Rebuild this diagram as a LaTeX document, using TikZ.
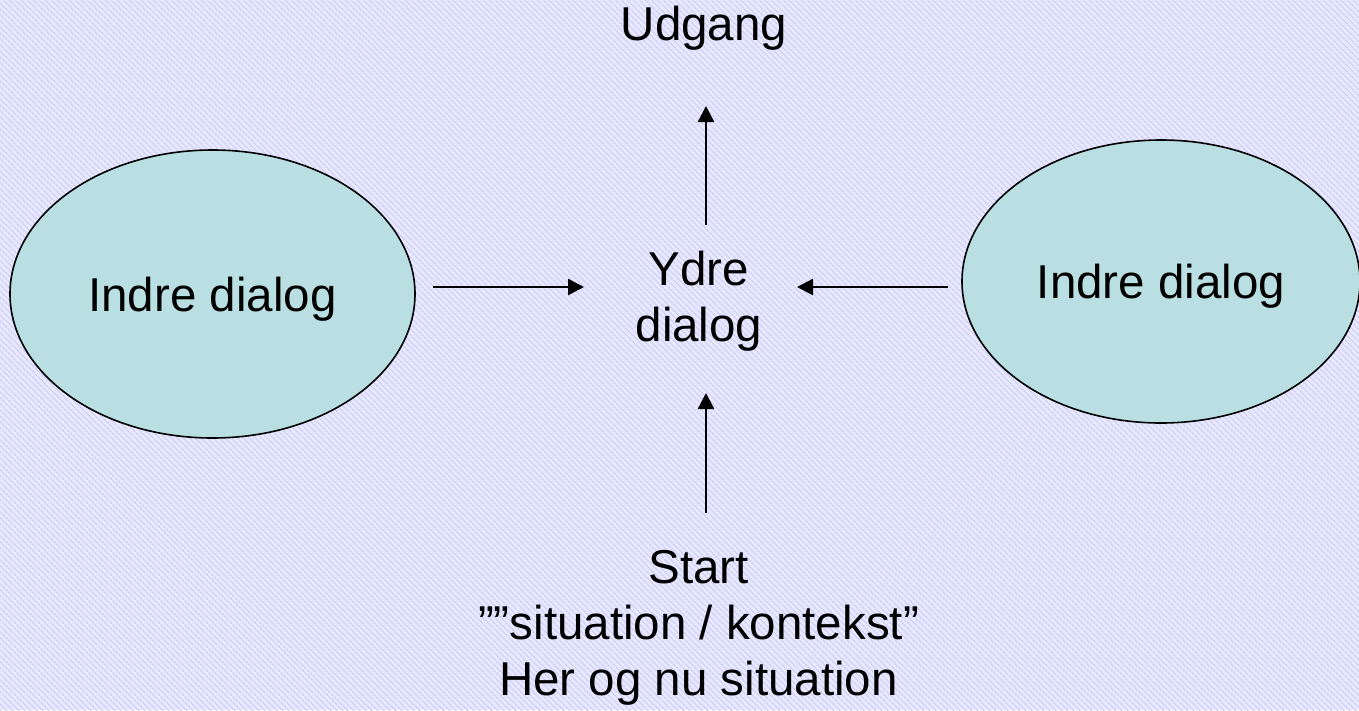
\documentclass[tikz,border=0pt]{standalone}
\usepackage{fontspec}
\setmainfont{Liberation Sans}
\usetikzlibrary{shapes.geometric,arrows.meta,patterns.meta}
\definecolor{bgc}{RGB}{232,232,255}
\definecolor{stripe}{RGB}{205,205,250}
\definecolor{ellc}{RGB}{185,223,226}
\begin{document}
\begin{tikzpicture}[x=1pt,y=-1pt,
  font=\fontsize{47.5}{56}\selectfont,
  inner/.style={ellipse,draw,line width=1.6pt,fill=ellc,inner sep=0pt,text depth=0pt},
  lbl/.style={align=center,inner sep=0pt},
  arr/.style={line width=2.4pt,-{Triangle[length=16pt,width=16pt]}}]
\fill[bgc] (0,0) rectangle (1359,710);
\fill[pattern={Lines[angle=-45,distance=4pt,line width=1.3pt]},pattern color=stripe] (0,0) rectangle (1359,710);
\useasboundingbox (0,0) rectangle (1359,710);

\node[inner,minimum width=405pt,minimum height=288pt] (L) at (212.5,294) {Indre dialog};
\node[inner,minimum width=398pt,minimum height=283pt] (R) at (1161,281.5) {Indre dialog};
\node[lbl,anchor=north] (U) at (704,5.5) {Udgang};
\node[lbl,anchor=north] (Y) at (699,250.5) {Ydre\\dialog};
\node[lbl,anchor=north] (S) at (698.5,550.5) {Start\\””situation / kontekst”\\Her og nu situation};

\coordinate (la) at (433,287);
\coordinate (lb) at (584,287);
\coordinate (ra) at (948,287);
\coordinate (rb) at (797,287);
\coordinate (ua) at (706,225);
\coordinate (ub) at (706,106);
\coordinate (da) at (706,513);
\coordinate (db) at (706,393);
\draw[arr] (la) -- (lb);
\draw[arr] (ra) -- (rb);
\draw[arr] (ua) -- (ub);
\draw[arr] (da) -- (db);
\end{tikzpicture}
\end{document}
